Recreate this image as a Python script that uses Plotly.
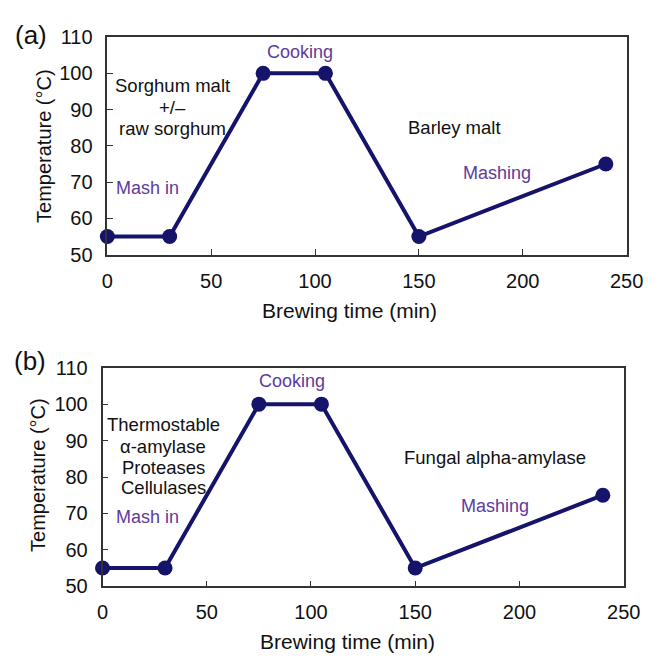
import plotly.graph_objects as go

# Data
time_min = [0, 30, 75, 105, 150, 240]
temp_c = [55, 55, 100, 100, 55, 75]
x_ticks = [0, 50, 100, 150, 200, 250]
y_ticks = [50, 60, 70, 80, 90, 100, 110]

W, H = 660, 663
LINE = "#16136a"
PURPLE = "#5e3b9c"
FONT = "Liberation Sans, Arial, sans-serif"

def px(x):
    return x / W

def py(y):
    return 1 - y / H

fig = go.Figure()
for ax in ["", "2"]:
    fig.add_trace(go.Scatter(
        x=time_min, y=temp_c, mode="lines+markers",
        line=dict(color=LINE, width=4),
        marker=dict(color=LINE, size=15),
        cliponaxis=False, showlegend=False,
        xaxis="x" + ax, yaxis="y" + ax,
    ))

axis_common = dict(
    showline=True, linecolor="#333333", linewidth=1.5, mirror=True,
    ticks="inside", ticklen=6, tickcolor="#333333", showgrid=False, zeroline=False,
    tickfont=dict(size=20, color="#111111", family=FONT),
)

fig.update_layout(
    width=W, height=H, margin=dict(l=0, r=0, t=0, b=0),
    paper_bgcolor="white", plot_bgcolor="white",
    font=dict(family=FONT, color="#111111"),
    xaxis=dict(domain=[px(105), px(643)], range=[0, 250], tickvals=x_ticks,
               anchor="y", ticklabelstandoff=8, **axis_common),
    yaxis=dict(domain=[py(252), py(27)], range=[50, 110], tickvals=y_ticks,
               anchor="x", ticklabelstandoff=9, **axis_common),
    xaxis2=dict(domain=[px(100), px(640)], range=[0, 250], tickvals=x_ticks,
                anchor="y2", ticklabelstandoff=7, **axis_common),
    yaxis2=dict(domain=[py(595), py(369)], range=[50, 110], tickvals=y_ticks,
                anchor="x2", ticklabelstandoff=9, **axis_common),
)

anns = []
def add(text, x, y, size=18, color="#111111", angle=0):
    anns.append(dict(text=text, x=px(x), y=py(y), xref="paper", yref="paper",
                     showarrow=False, xanchor="center", yanchor="middle",
                     textangle=angle, font=dict(size=size, color=color, family=FONT)))

# Panel (a)
add("(a)", 26, 25, size=26)
add("Cooking", 305, 42, color=PURPLE)
add("Sorghum malt", 172, 77, size=18.5)
add("+/–", 172, 100, size=18.5)
add("raw sorghum", 172, 122, size=18.5)
add("Mash in", 147, 183, color=PURPLE)
add("Barley malt", 465, 120, size=18.5)
add("Mashing", 509, 168, color=PURPLE)
add("Brewing time (min)", 356, 310, size=21)
add("Temperature (°C)", 40, 140, size=20, angle=-90)

# Panel (b)
add("(b)", 25, 362, size=26)
add("Cooking", 296, 383, color=PURPLE)
add("Thermostable", 163, 428, size=18.5)
add("α-amylase", 163, 450, size=18.5)
add("Proteases", 163, 472, size=18.5)
add("Cellulases", 163, 493, size=18.5)
add("Fungal alpha-amylase", 507, 462, size=18.5)
add("Mash in", 147, 523, color=PURPLE)
add("Mashing", 507, 512, color=PURPLE)
add("Brewing time (min)", 354, 652, size=21)
add("Temperature (°C)", 33, 480, size=20, angle=-90)

fig.update_layout(annotations=anns)
fig.write_html("out.html")
